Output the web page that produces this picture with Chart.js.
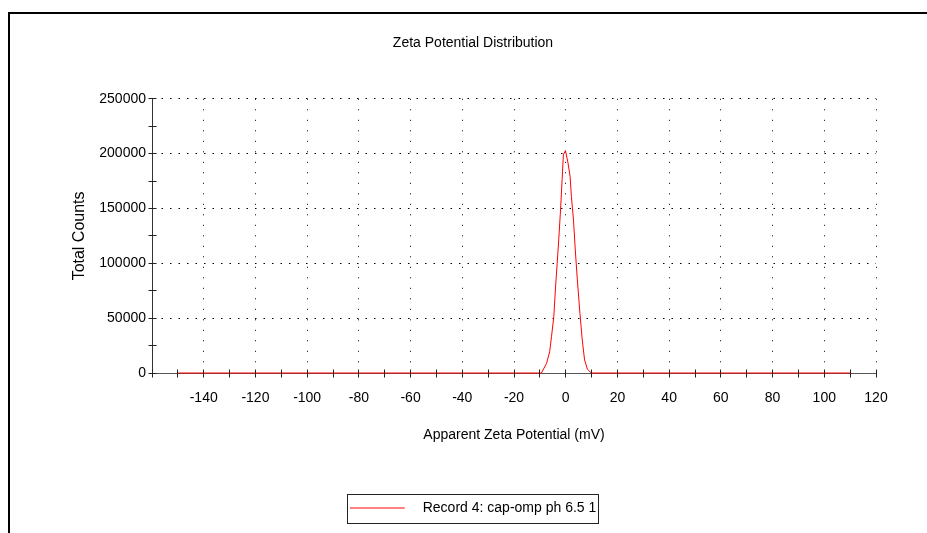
<!DOCTYPE html>
<html>
<head>
<meta charset="utf-8">
<script src="https://cdn.jsdelivr.net/npm/chart.js@4.4.0/dist/chart.umd.min.js"></script>
<style>
  html, body { margin: 0; padding: 0; background: #fff; }
  #wrap { position: relative; width: 927px; height: 533px; }
  #frame { position: absolute; left: 8px; top: 12px; right: 0; bottom: 0;
           border-top: 2px solid #000; border-left: 2px solid #000; pointer-events: none; }
</style>
</head>
<body>
<div id="wrap">
  <canvas id="zeta" width="927" height="533"></canvas>
  <div id="frame"></div>
</div>
<script>
// zeta potential (mV) and total counts
const potentials = [-150, -9.4, -7.4, -6.2, -5.5, -4.6, -4.0, -3.3, -2.7, -2.0, -1.4, -0.9, -0.1,
                    0.9, 1.7, 2.2, 3.0, 3.7, 4.5, 5.5, 6.4, 7.3, 8.4, 9.9, 110];
const counts = [0, 0, 8850, 19400, 33100, 51400, 75700, 100100, 121400, 148700, 176100, 198900, 202800,
                191300, 179100, 160900, 139600, 112200, 84900, 54500, 30100, 11900, 3400, 0, 0];

const xTickLabels = [-140, -120, -100, -80, -60, -40, -20, 0, 20, 40, 60, 80, 100, 120];
const yTickLabels = [0, 50000, 100000, 150000, 200000, 250000];

const seriesName = 'Record 4: cap-omp ph 6.5 1';

const sans = "'Liberation Sans', Arial, sans-serif";
Chart.defaults.font.family = sans;
Chart.defaults.font.size = 14;
Chart.defaults.color = '#000';

// legend sample: red line with empty space after it
const legendLine = document.createElement('canvas');
legendLine.width = 66;
legendLine.height = 3;
const lctx = legendLine.getContext('2d');
lctx.strokeStyle = '#ff0000';
lctx.lineWidth = 1;
lctx.beginPath();
lctx.moveTo(0, 1.5);
lctx.lineTo(55, 1.5);
lctx.stroke();

const align = v => Math.round(v - 0.5) + 0.5;

const crossTicks = {
  id: 'crossTicks',
  afterDraw(chart) {
    const { ctx, scales: { x, y } } = chart;
    ctx.save();
    ctx.strokeStyle = '#222';
    ctx.lineWidth = 1;
    ctx.beginPath();
    const y0 = align(y.getPixelForValue(0));
    x.ticks.forEach(t => {
      const px = align(x.getPixelForValue(t.value));
      ctx.moveTo(px, y0 - 4);
      ctx.lineTo(px, y0 + 4);
    });
    const x0 = align(x.getPixelForValue(x.min));
    y.ticks.forEach(t => {
      const py = align(y.getPixelForValue(t.value));
      ctx.moveTo(x0 - 4, py);
      ctx.lineTo(x0 + 4, py);
    });
    ctx.stroke();

    // box round the legend
    const hb = chart.legend.legendHitBoxes[0];
    if (hb) {
      const cy = hb.top + hb.height / 2;
      ctx.strokeStyle = '#222';
      ctx.strokeRect(align(hb.left - 2), align(cy - 14), Math.round(hb.width + 4), 29);
    }
    ctx.restore();
  }
};

new Chart(document.getElementById('zeta').getContext('2d'), {
  type: 'line',
  data: {
    datasets: [{
      label: seriesName,
      data: potentials.map((p, i) => ({ x: p, y: counts[i] })),
      borderColor: '#ff0000',
      backgroundColor: '#ff0000',
      borderWidth: 1,
      pointRadius: 0,
      tension: 0,
      fill: false,
      clip: false
    }]
  },
  options: {
    responsive: false,
    animation: false,
    layout: { padding: { left: 70, right: 51, top: 0, bottom: 8 } },
    plugins: {
      title: {
        display: true,
        text: 'Zeta Potential Distribution',
        color: '#000',
        font: { size: 14, weight: 'normal' },
        padding: { top: 35, bottom: 47 }
      },
      legend: {
        position: 'bottom',
        labels: {
          usePointStyle: true,
          pointStyle: legendLine,
          pointStyleWidth: 66,
          boxHeight: 3,
          padding: 10,
          color: '#000',
          font: { size: 14 }
        }
      },
      tooltip: { enabled: false }
    },
    scales: {
      x: {
        type: 'linear',
        min: -160,
        max: 120,
        afterFit: s => { s.height = 118; },
        ticks: {
          stepSize: 10,
          autoSkip: false,
          maxRotation: 0,
          padding: 17,
          color: '#000',
          callback: v => xTickLabels.includes(v) ? String(v) : ''
        },
        grid: {
          drawTicks: false,
          lineWidth: 1,
          color: c => (c.tick && xTickLabels.includes(c.tick.value)) ? '#000' : 'rgba(0,0,0,0)'
        },
        border: { display: true, color: '#555', width: 1, dash: [1, 9.5] },
        title: {
          display: true,
          text: 'Apparent Zeta Potential (mV)',
          color: '#000',
          font: { size: 14 },
          padding: { top: 0, bottom: 47 }
        }
      },
      y: {
        min: 0,
        max: 250000,
        afterFit: s => { s.width = 82; },
        ticks: {
          stepSize: 25000,
          autoSkip: false,
          padding: 6,
          color: '#000',
          callback: v => yTickLabels.includes(v) ? String(v) : ''
        },
        grid: {
          drawTicks: false,
          lineWidth: 1,
          color: c => (c.tick && c.tick.value > 0 && yTickLabels.includes(c.tick.value)) ? '#000' : 'rgba(0,0,0,0)'
        },
        border: { display: true, color: '#333', width: 1, dash: [1.5, 7] },
        title: {
          display: true,
          text: 'Total Counts',
          color: '#000',
          font: { size: 16 },
          padding: { top: 0, bottom: 0 }
        }
      }
    }
  },
  plugins: [crossTicks]
});
</script>
</body>
</html>
